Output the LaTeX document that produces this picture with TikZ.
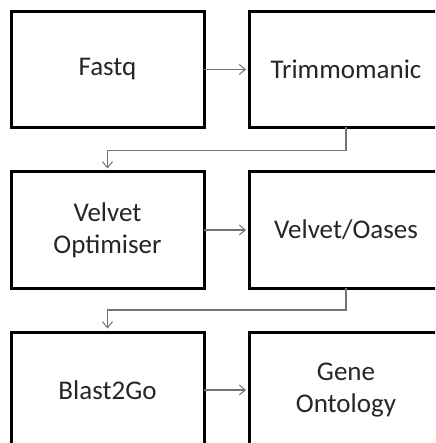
\documentclass[tikz,border=0pt]{standalone}
\usepackage{fontspec}
\setmainfont{Carlito}
\usetikzlibrary{arrows.meta}
\begin{document}
\begin{tikzpicture}[x=1pt,y=-1pt,
  stepbox/.style={draw=black, line width=3pt, minimum width=193pt, minimum height=116pt,
    outer sep=0pt, inner sep=0pt, align=center, font=\fontsize{27}{32}\selectfont, text=black!85},
  conn/.style={draw=black!55, line width=1.1pt, -{Straight Barb[length=6pt,width=10pt,line width=1pt]}, shorten >=3.5pt}]
\fill[white] (0,0) rectangle (435,443);
\useasboundingbox (0,0) rectangle (435,443);
\clip (0,0) rectangle (435,443);
\node[stepbox] (fq) at (107.5,69.5) {Fastq};
\node[stepbox] (tr) at (346,69.5) {Trimmomanic};
\node[stepbox] (vop) at (107.5,230) {Velvet\\Optimiser};
\node[stepbox] (vo) at (346,230) {Velvet/Oases};
\node[stepbox] (bg) at (107.5,390) {Blast2Go};
\node[stepbox] (go) at (346,390) {Gene\\Ontology};
\draw[conn] (fq.east) -- (tr.west);
\draw[conn] (vop.east) -- (vo.west);
\draw[conn] (bg.east) -- (go.west);
\draw[conn] (tr.south) -- ++(0,23) -| (vop.north);
\draw[conn] (vo.south) -- ++(0,22) -| (bg.north);
\end{tikzpicture}
\end{document}
